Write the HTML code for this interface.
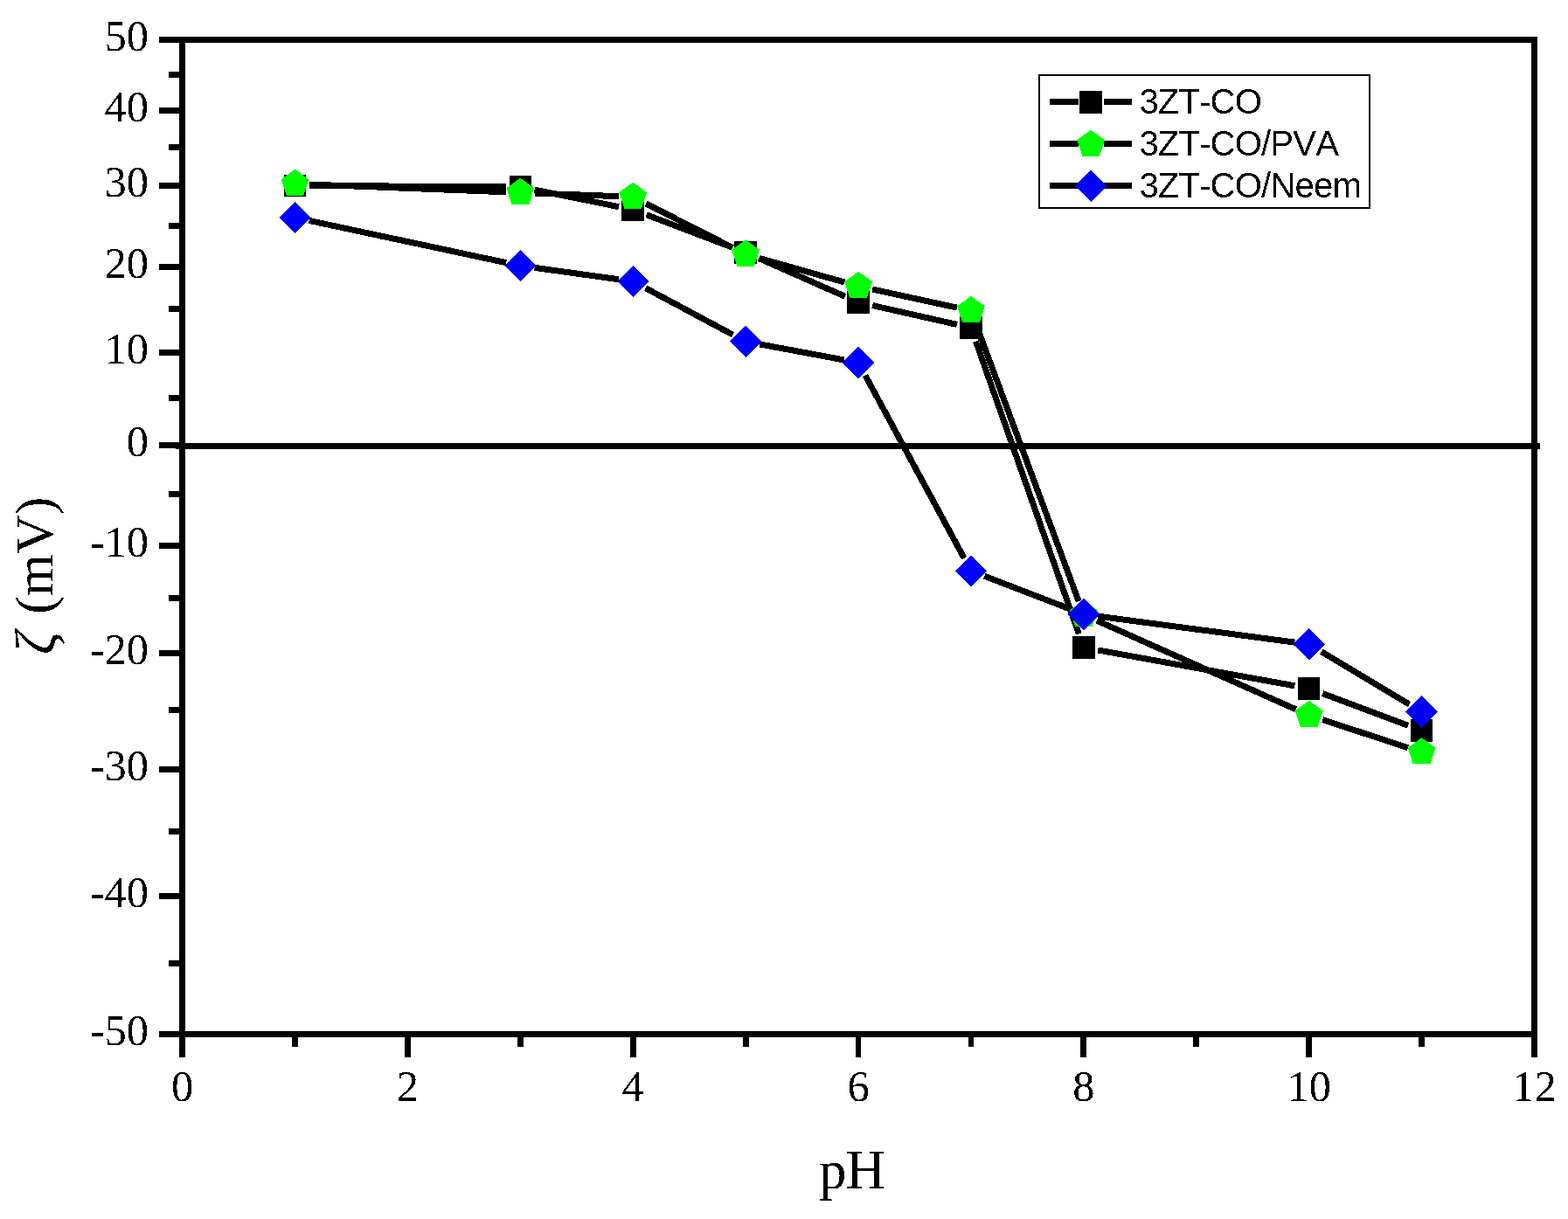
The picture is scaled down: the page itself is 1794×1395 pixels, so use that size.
<!DOCTYPE html>
<html lang="en"><head><meta charset="utf-8"><title>Zeta potential vs pH</title>
<style>html,body{margin:0;padding:0;background:#fff}body{width:1794px;height:1395px;overflow:hidden}svg{display:block}.tk{font-family:"Liberation Serif",serif;font-size:50.5px;fill:#000}.ti{font-family:"Liberation Serif",serif;font-size:62px;fill:#000}.lg{font-family:"Liberation Sans",sans-serif;font-size:40.2px;letter-spacing:-0.9px;font-kerning:none;fill:#000}</style></head><body>
<svg width="1794" height="1395" viewBox="0 0 1794 1395" shape-rendering="crispEdges">
<rect width="1794" height="1395" fill="#fff"/>
<defs><filter id="crisp" x="-5%" y="-5%" width="110%" height="110%" color-interpolation-filters="sRGB"><feComponentTransfer><feFuncA type="discrete" tableValues="0 1"/></feComponentTransfer></filter></defs>
<g fill="#000">
<rect x="205.2" y="42.1" width="1553.7" height="6.8"/>
<rect x="205.2" y="1179.9" width="1553.7" height="6.8"/>
<rect x="205.2" y="42.1" width="6.8" height="1144.6"/>
<rect x="1752.1" y="42.1" width="6.8" height="1144.6"/>
<rect x="201" y="507" width="1561" height="7"/>
<rect x="181.9" y="42.1" width="24.3" height="6.8"/>
<rect x="181.9" y="123.1" width="24.3" height="6.8"/>
<rect x="181.9" y="208.9" width="24.3" height="6.8"/>
<rect x="181.9" y="302.2" width="24.3" height="6.8"/>
<rect x="181.9" y="400.1" width="24.3" height="6.8"/>
<rect x="181.9" y="506.4" width="24.3" height="6.8"/>
<rect x="181.9" y="621" width="24.3" height="6.8"/>
<rect x="181.9" y="743.9" width="24.3" height="6.8"/>
<rect x="181.9" y="877.1" width="24.3" height="6.8"/>
<rect x="181.9" y="1021.8" width="24.3" height="6.8"/>
<rect x="181.9" y="1179.9" width="24.3" height="6.8"/>
<rect x="192.9" y="82" width="13.3" height="6.8"/>
<rect x="192.9" y="165.3" width="13.3" height="6.8"/>
<rect x="192.9" y="255.1" width="13.3" height="6.8"/>
<rect x="192.9" y="350.1" width="13.3" height="6.8"/>
<rect x="192.9" y="452.1" width="13.3" height="6.8"/>
<rect x="192.9" y="562.2" width="13.3" height="6.8"/>
<rect x="192.9" y="681.1" width="13.3" height="6.8"/>
<rect x="192.9" y="809.1" width="13.3" height="6.8"/>
<rect x="192.9" y="948.1" width="13.3" height="6.8"/>
<rect x="192.9" y="1098.9" width="13.3" height="6.8"/>
<rect x="205.2" y="1185.7" width="6.8" height="24.3"/>
<rect x="334.11" y="1185.7" width="6.8" height="12"/>
<rect x="463.02" y="1185.7" width="6.8" height="24.3"/>
<rect x="591.93" y="1185.7" width="6.8" height="12"/>
<rect x="720.83" y="1185.7" width="6.8" height="24.3"/>
<rect x="849.74" y="1185.7" width="6.8" height="12"/>
<rect x="978.65" y="1185.7" width="6.8" height="24.3"/>
<rect x="1107.56" y="1185.7" width="6.8" height="12"/>
<rect x="1236.47" y="1185.7" width="6.8" height="24.3"/>
<rect x="1365.37" y="1185.7" width="6.8" height="12"/>
<rect x="1494.28" y="1185.7" width="6.8" height="24.3"/>
<rect x="1623.19" y="1185.7" width="6.8" height="12"/>
<rect x="1752.1" y="1185.7" width="6.8" height="24.3"/>
</g>
<g class="tk" text-anchor="end" filter="url(#crisp)">
<text x="170" y="58.1">50</text>
<text x="170" y="139.1">40</text>
<text x="170" y="224.9">30</text>
<text x="170" y="318.2">20</text>
<text x="170" y="416.1">10</text>
<text x="170" y="522.4">0</text>
<text x="170" y="637">-10</text>
<text x="170" y="759.9">-20</text>
<text x="170" y="893.1">-30</text>
<text x="170" y="1037.8">-40</text>
<text x="170" y="1195.9">-50</text>
</g>
<g class="tk" text-anchor="middle" filter="url(#crisp)">
<text x="208.6" y="1259.9">0</text>
<text x="466.42" y="1259.9">2</text>
<text x="724.23" y="1259.9">4</text>
<text x="982.05" y="1259.9">6</text>
<text x="1239.87" y="1259.9">8</text>
<text x="1497.68" y="1259.9">10</text>
<text x="1755.5" y="1259.9">12</text>
</g>
<text class="ti" filter="url(#crisp)" text-anchor="middle" x="974.6" y="1359.9" style="font-size:63px;letter-spacing:-0.8px">pH</text>
<text class="ti" filter="url(#crisp)" transform="translate(60 749) rotate(-90)"><tspan style="font-style:italic;font-size:65px" dy="2.5">ζ</tspan><tspan dy="-2.5" dx="4.4"> (mV)</tspan></text>
<path d="M354.01 212.41L578.83 213.89M611.5 217.25L708.06 236.65M739.65 245.77L837.72 283.13M868.24 295.66L966.96 339.24M998.15 349.53L1094.86 371.37M1116.44 390.56L1234.39 725.44M1256.1 743.95L1481.45 784.85M1513.13 793.59L1611.14 830.31" stroke="#000" stroke-width="7" fill="none"/>
<rect x="324.71" y="199.5" width="25.6" height="25.6" fill="#000"/><rect x="582.53" y="201.2" width="25.6" height="25.6" fill="#000"/><rect x="711.43" y="227.1" width="25.6" height="25.6" fill="#000"/><rect x="840.34" y="276.2" width="25.6" height="25.6" fill="#000"/><rect x="969.25" y="333.1" width="25.6" height="25.6" fill="#000"/><rect x="1098.16" y="362.2" width="25.6" height="25.6" fill="#000"/><rect x="1227.07" y="728.2" width="25.6" height="25.6" fill="#000"/><rect x="1484.88" y="775" width="25.6" height="25.6" fill="#000"/><rect x="1613.79" y="823.3" width="25.6" height="25.6" fill="#000"/>
<path d="M354 211.04L578.84 219.76M611.81 221.03L707.75 224.67M738.93 232.79L838.44 283.51M869.02 295.5L966.17 323M998.17 331.01L1094.84 352.09M1116.69 371.07L1234.13 688.03M1254.94 710.22L1482.61 811.78M1513.36 823.66L1610.92 855.74" stroke="#000" stroke-width="7" fill="none"/>
<polygon points="337.51,193.7 353.39,205.24 347.32,223.91 327.69,223.91 321.63,205.24" fill="#00ff00"/><polygon points="595.33,203.7 611.21,215.24 605.14,233.91 585.51,233.91 579.44,215.24" fill="#00ff00"/><polygon points="724.23,208.6 740.12,220.14 734.05,238.81 714.42,238.81 708.35,220.14" fill="#00ff00"/><polygon points="853.14,274.3 869.02,285.84 862.96,304.51 843.33,304.51 837.26,285.84" fill="#00ff00"/><polygon points="982.05,310.8 997.93,322.34 991.87,341.01 972.23,341.01 966.17,322.34" fill="#00ff00"/><polygon points="1110.96,338.9 1126.84,350.44 1120.77,369.11 1101.14,369.11 1095.08,350.44" fill="#00ff00"/><polygon points="1239.87,686.8 1255.75,698.34 1249.68,717.01 1230.05,717.01 1223.98,698.34" fill="#00ff00"/><polygon points="1497.68,801.8 1513.57,813.34 1507.5,832.01 1487.87,832.01 1481.8,813.34" fill="#00ff00"/><polygon points="1626.59,844.2 1642.47,855.74 1636.41,874.41 1616.78,874.41 1610.71,855.74" fill="#00ff00"/>
<path d="M353.64 252.45L579.19 300.65M611.67 306.37L707.89 319.73M738.79 329.78L838.59 383.12M869.36 393.93L965.83 411.97M989.9 429.51L1103.11 638.79M1126.35 659.24L1224.47 697.06M1256.22 705.18L1481.33 735.12M1511.84 745.78L1612.44 806.02" stroke="#000" stroke-width="7" fill="none"/>
<polygon points="337.51,230.8 355.71,249 337.51,267.2 319.31,249" fill="#0000ff"/><polygon points="595.33,285.9 613.53,304.1 595.33,322.3 577.12,304.1" fill="#0000ff"/><polygon points="724.23,303.8 742.43,322 724.23,340.2 706.03,322" fill="#0000ff"/><polygon points="853.14,372.7 871.34,390.9 853.14,409.1 834.94,390.9" fill="#0000ff"/><polygon points="982.05,396.8 1000.25,415 982.05,433.2 963.85,415" fill="#0000ff"/><polygon points="1110.96,635.1 1129.16,653.3 1110.96,671.5 1092.76,653.3" fill="#0000ff"/><polygon points="1239.87,684.8 1258.07,703 1239.87,721.2 1221.67,703" fill="#0000ff"/><polygon points="1497.68,719.1 1515.88,737.3 1497.68,755.5 1479.48,737.3" fill="#0000ff"/><polygon points="1626.59,796.3 1644.79,814.5 1626.59,832.7 1608.39,814.5" fill="#0000ff"/>
<rect x="1189" y="86" width="378" height="152" fill="#fff" stroke="#000" stroke-width="2"/>
<path d="M1201.2 116.3H1233.6M1263 116.3H1295" stroke="#000" stroke-width="6.8"/>
<rect x="1235.3" y="104.1" width="25.6" height="25.6" fill="#000"/>
<text class="lg" filter="url(#crisp)" x="1303.4" y="129.7">3ZT-CO</text>
<path d="M1201.2 164.3H1233.6M1263 164.3H1295" stroke="#000" stroke-width="6.8"/>
<polygon points="1248.1,148.6 1263.98,160.14 1257.92,178.81 1238.28,178.81 1232.22,160.14" fill="#00ff00"/>
<text class="lg" filter="url(#crisp)" x="1303.4" y="177.7">3ZT-CO/PVA</text>
<path d="M1201.2 212.3H1233.6M1263 212.3H1295" stroke="#000" stroke-width="6.8"/>
<polygon points="1248.1,194.7 1266.3,212.9 1248.1,231.1 1229.9,212.9" fill="#0000ff"/>
<text class="lg" filter="url(#crisp)" x="1303.4" y="225.7">3ZT-CO/Neem</text>
</svg></body></html>
